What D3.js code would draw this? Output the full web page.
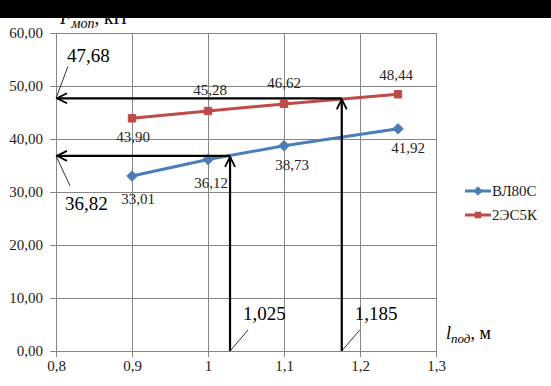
<!DOCTYPE html>
<html><head><meta charset="utf-8">
<script src="https://d3js.org/d3.v7.min.js"></script>
<style>body{margin:0;background:#fff}svg{display:block}</style>
</head><body>
<script>
const xValues = [0.9, 1.0, 1.1, 1.25];
const seriesNames = ["ВЛ80С", "2ЭС5К"];
const vl80s = [33.01, 36.12, 38.73, 41.92];
const es5k = [43.90, 45.28, 46.62, 48.44];
const xTicks = [0.8, 0.9, 1.0, 1.1, 1.2, 1.3];
const yTicks = [0, 10, 20, 30, 40, 50, 60];
const markX = [1.029, 1.176];
const markXLabels = ["1,025", "1,185"];
const markY = [36.82, 47.68];
const markYLabels = ["36,82", "47,68"];

const W = 551, H = 386;
const svg = d3.select("body").append("svg").attr("width", W).attr("height", H);
const x = d3.scaleLinear().domain([0.8, 1.3]).range([56, 436]);
const y = d3.scaleLinear().domain([0, 60]).range([351, 33]);
const fmt = v => d3.format(".2f")(v).replace(".", ",");
const fmtX = v => (Math.round(v * 10) / 10).toString().replace(".", ",");
const serif = "Liberation Serif";
const grid = "#868686";

// gridlines
svg.append("g").selectAll("line.h").data(yTicks).join("line")
  .attr("x1", x(0.8)).attr("x2", x(1.3)).attr("y1", d => y(d)).attr("y2", d => y(d))
  .attr("stroke", grid).attr("stroke-width", 1).attr("shape-rendering", "crispEdges");
svg.append("g").selectAll("line.v").data(xTicks).join("line")
  .attr("x1", d => x(d)).attr("x2", d => x(d)).attr("y1", y(0)).attr("y2", y(60))
  .attr("stroke", grid).attr("stroke-width", 1).attr("shape-rendering", "crispEdges");

// axes
const ya = svg.append("g").attr("transform", `translate(${x(0.8)},0)`)
  .call(d3.axisLeft(y).tickValues(yTicks).tickFormat(fmt).tickSize(6).tickPadding(7));
const xa = svg.append("g").attr("transform", `translate(0,${y(0)})`)
  .call(d3.axisBottom(x).tickValues(xTicks).tickFormat(fmtX).tickSize(6).tickPadding(3));
[ya, xa].forEach(a => {
  a.attr("font-family", serif);
  a.selectAll("path,line").attr("stroke", grid).attr("shape-rendering", "crispEdges");
  a.selectAll("text").attr("font-family", serif).attr("font-size", 15).attr("fill", "#222");
});

// series
const colors = ["#4A7EBB", "#BE4B48"];
const data = [vl80s, es5k];
const line = d3.line().x((d, i) => x(xValues[i])).y(d => y(d));
data.forEach((s, k) => {
  svg.append("path").datum(s).attr("d", line).attr("fill", "none")
    .attr("stroke", colors[k]).attr("stroke-width", 3);
  const sym = d3.symbol().type(k === 0 ? d3.symbolDiamond2 : d3.symbolSquare2).size(70);
  svg.append("g").selectAll("path").data(s).join("path")
    .attr("transform", (d, i) => `translate(${x(xValues[i])},${y(d)})`)
    .attr("d", sym).attr("fill", colors[k]).attr("stroke", colors[k]).attr("stroke-width", 1);
});

// data labels
const blueOff = [[6, 28], [3, 28], [8, 24], [10, 24]];
const redOff = [[1, 24], [2, -16], [0, -16], [-2, -14]];
const addLabels = (s, offs) => svg.append("g").selectAll("text").data(s).join("text")
  .attr("x", (d, i) => x(xValues[i]) + offs[i][0]).attr("y", (d, i) => y(d) + offs[i][1])
  .attr("text-anchor", "middle").attr("font-family", serif).attr("font-size", 15).attr("fill", "#262626")
  .text(d => fmt(d));
addLabels(vl80s, blueOff);
addLabels(es5k, redOff);

// arrows
const defs = svg.append("defs");
defs.append("marker").attr("id", "arr").attr("viewBox", "0 0 12 12").attr("refX", 11).attr("refY", 6)
  .attr("markerWidth", 12).attr("markerHeight", 12).attr("markerUnits", "userSpaceOnUse").attr("orient", "auto")
  .append("path").attr("d", "M1,1 L11,6 L1,11").attr("fill", "none").attr("stroke", "#000").attr("stroke-width", 1.8);
markX.forEach((mx, i) => {
  svg.append("line").attr("x1", x(mx)).attr("x2", x(mx)).attr("y1", y(0)).attr("y2", y(markY[i]) + 1)
    .attr("stroke", "#000").attr("stroke-width", 2.2).attr("marker-end", "url(#arr)");
  svg.append("line").attr("x1", x(mx)).attr("x2", x(0.8) + 1).attr("y1", y(markY[i])).attr("y2", y(markY[i]))
    .attr("stroke", "#000").attr("stroke-width", 2.2).attr("marker-end", "url(#arr)");
});

// leader lines and annotation labels
const xLabOff = [[18, -21], [18, -21]];
markX.forEach((mx, i) => {
  svg.append("line").attr("x1", x(mx)).attr("y1", y(0)).attr("x2", x(mx) + xLabOff[i][0]).attr("y2", y(0) + xLabOff[i][1])
    .attr("stroke", "#000").attr("stroke-width", 0.8);
  svg.append("text").attr("x", x(mx) + 13).attr("y", y(0) - 31)
    .attr("font-family", serif).attr("font-size", 19).attr("fill", "#000").text(markXLabels[i]);
});
const yLabOff = [[14, 30, 9, 54], [12, -32, 11, -36]];
markY.forEach((my, i) => {
  const o = yLabOff[i];
  svg.append("line").attr("x1", x(0.8)).attr("y1", y(my)).attr("x2", x(0.8) + o[0]).attr("y2", y(my) + o[1])
    .attr("stroke", "#000").attr("stroke-width", 0.8);
  svg.append("text").attr("x", x(0.8) + o[2]).attr("y", y(my) + o[3])
    .attr("font-family", serif).attr("font-size", 19).attr("fill", "#000").text(markYLabels[i]);
});

// axis titles
const yt = svg.append("text").attr("x", 60).attr("y", 24).attr("font-family", serif).attr("font-size", 19).attr("fill", "#000");
yt.append("tspan").attr("font-style", "italic").text("F");
yt.append("tspan").attr("font-style", "italic").attr("font-size", 14).attr("dy", 4).text("моп");
yt.append("tspan").attr("dy", -4).text(", кН");
const xt = svg.append("text").attr("x", 446).attr("y", 339).attr("font-family", serif).attr("font-size", 18).attr("fill", "#000");
xt.append("tspan").attr("font-style", "italic").text("l");
xt.append("tspan").attr("font-style", "italic").attr("font-size", 13).attr("dy", 4).text("под");
xt.append("tspan").attr("dy", -4).text(", м");

// legend
const lg = svg.append("g").attr("transform", "translate(465,191)");
seriesNames.forEach((n, k) => {
  const g = lg.append("g").attr("transform", `translate(0,${k * 24})`);
  g.append("line").attr("x1", 0).attr("x2", 26).attr("stroke", colors[k]).attr("stroke-width", 3);
  g.append("path").attr("transform", "translate(13,0)")
    .attr("d", d3.symbol().type(k === 0 ? d3.symbolDiamond2 : d3.symbolSquare2).size(55)).attr("fill", colors[k]);
  g.append("text").attr("x", 27).attr("y", 5).attr("font-family", serif).attr("font-size", 15).attr("fill", "#222").text(n);
});

// top black band
svg.append("rect").attr("x", 0).attr("y", 0).attr("width", W).attr("height", 18).attr("fill", "#000");
</script>
</body></html>
